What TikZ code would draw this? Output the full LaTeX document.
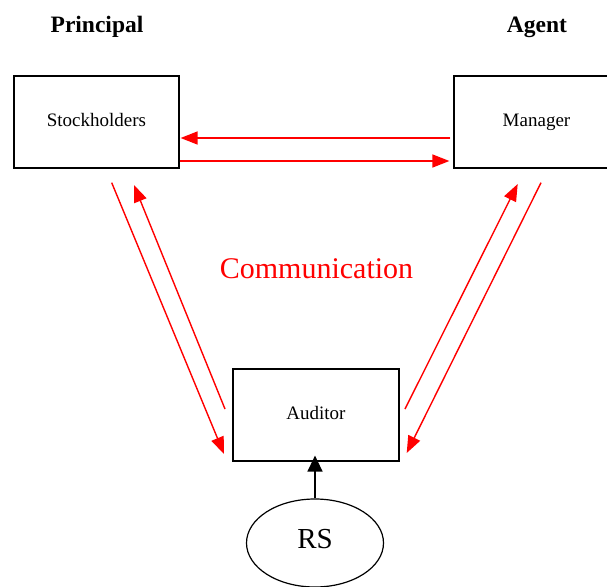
\documentclass[tikz,border=0pt]{standalone}
\usepackage{fontspec}
\setmainfont{Liberation Serif}
\usetikzlibrary{arrows.meta,shapes.geometric}
\begin{document}
\begin{tikzpicture}[x=1bp,y=-1bp,
  boxnode/.style={draw=black,line width=1.2bp,rectangle,minimum width=165bp,minimum height=92bp,inner sep=0pt,
    font=\fontsize{19bp}{23bp}\selectfont,text height=13bp,text depth=4bp},
  headlbl/.style={font=\bfseries\fontsize{23.5bp}{28bp}\selectfont,anchor=base,inner sep=0pt},
  redarrow/.style={draw=red,line width=1.4bp,-{Triangle[length=17bp,width=13bp]},fill=red},
  blackarrow/.style={draw=black,line width=1.4bp,-{Triangle[length=16bp,width=15bp]}}]
\useasboundingbox (0,0) rectangle (607,587);
% headings
\node[headlbl] (principal) at (97,33) {Principal};
\node[headlbl] (agent) at (537,33) {Agent};
% boxes
\node[boxnode] (stock) at (96.5,122) {Stockholders};
\node[boxnode] (man) at (536.5,122) {Manager};
\node[boxnode,minimum width=166bp] (aud) at (316,415) {Auditor};
\node[draw=black,line width=1.2bp,ellipse,minimum width=137bp,minimum height=88bp,inner sep=0pt,
  font=\fontsize{29bp}{34bp}\selectfont,text height=20bp,text depth=9.4bp] (rs) at (315,543) {RS};
% communication label
\node[text=red,font=\fontsize{30bp}{36bp}\selectfont,anchor=base,inner sep=0pt] (comm) at (316.5,278) {Communication};
% horizontal arrows
\draw[redarrow] ([xshift=-3bp,yshift=-16bp]man.west) -- ([xshift=1bp,yshift=-16bp]stock.east);
\draw[redarrow] ([yshift=-39bp]stock.east) -- ([xshift=-4bp,yshift=-39bp]man.west);
% diagonal arrow endpoints
\coordinate (la1) at (111.7,182.7);
\coordinate (la2) at (224,454);
\coordinate (lb1) at (225,409);
\coordinate (lb2) at (134,185);
\coordinate (rc1) at (405,409);
\coordinate (rc2) at (517.7,184);
\coordinate (rd1) at (541,182.7);
\coordinate (rd2) at (406.7,453);
\draw[redarrow] (la1) -- (la2);
\draw[redarrow] (lb1) -- (lb2);
\draw[redarrow] (rc1) -- (rc2);
\draw[redarrow] (rd1) -- (rd2);
% RS to auditor
\draw[blackarrow] (rs.north) -- ([yshift=6bp]rs.north |- aud.south);
\end{tikzpicture}
\end{document}
